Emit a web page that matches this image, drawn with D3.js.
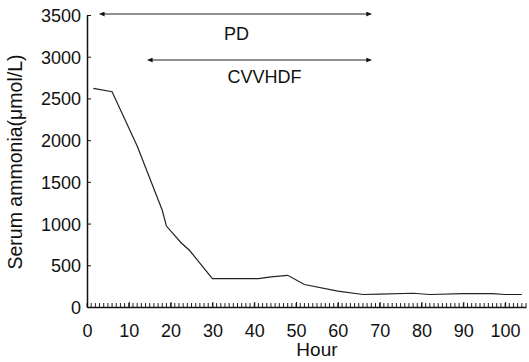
<!DOCTYPE html>
<html>
<head>
<meta charset="utf-8">
<script src="https://cdn.jsdelivr.net/npm/d3@7"></script>
<style>
  body { margin: 0; background: #fff; }
  svg text { font-family: "Liberation Sans", Arial, sans-serif; fill: #111; }
</style>
</head>
<body>
<div id="chart"></div>
<script>
// serum ammonia over time
var hours  = [1.5, 6, 12, 18, 19, 22.5, 24.5, 30, 35, 41, 44, 48, 52, 60, 66, 70, 78, 82, 90, 97, 100, 104];
var values = [2620, 2580, 1930, 1160, 970, 770, 680, 340, 340, 340, 360, 380, 270, 190, 150, 155, 165, 150, 160, 160, 150, 150];

// treatment periods (hours)
var phaseNames = ["PD", "CVVHDF"];
var phaseStart = [3, 14.5];
var phaseEnd   = [68, 68];

var xTicks = [0, 10, 20, 30, 40, 50, 60, 70, 80, 90, 100];
var yTicks = [0, 500, 1000, 1500, 2000, 2500, 3000, 3500];

var W = 529, H = 362;
var margin = { top: 15, right: 3, bottom: 55, left: 87 },
    width = W - margin.left - margin.right,
    height = H - margin.top - margin.bottom;

var svg = d3.select("#chart").append("svg")
    .attr("width", W)
    .attr("height", H),
    g = svg.append("g")
    .attr("transform", "translate(" + margin.left + "," + margin.top + ")");

var x = d3.scaleLinear().domain([0, 105]).range([0, width]);
var y = d3.scaleLinear().domain([0, 3500]).range([height, 0]);

// minor ticks every hour along the bottom
g.append("g").selectAll("line")
    .data(d3.range(0, 106))
    .enter().append("line")
    .attr("x1", function(d) { return x(d); })
    .attr("x2", function(d) { return x(d); })
    .attr("y1", height)
    .attr("y2", height - 4)
    .attr("stroke", "#222")
    .attr("stroke-width", 1);

var xAxis = g.append("g")
    .attr("transform", "translate(0," + height + ")")
    .call(d3.axisBottom(x).tickValues(xTicks).tickFormat(d3.format("d")).tickSizeInner(-5).tickSizeOuter(0));
xAxis.select(".domain").attr("stroke", "#111").attr("stroke-width", 1.5);
xAxis.selectAll(".tick line").attr("stroke", "#111");
xAxis.selectAll(".tick text")
    .attr("y", 30).attr("dy", 0)
    .style("font-size", "18px");

var yAxis = g.append("g")
    .call(d3.axisLeft(y).tickValues(yTicks).tickFormat(d3.format("d")).tickSizeInner(-4).tickSizeOuter(0).tickPadding(6));
yAxis.select(".domain").attr("stroke", "#111").attr("stroke-width", 1.5);
yAxis.selectAll(".tick line").attr("stroke", "#111");
yAxis.selectAll(".tick text")
    .attr("x", -6).attr("dy", "0.36em")
    .style("font-size", "18px");

// axis titles
svg.append("text")
    .attr("x", margin.left + x(55))
    .attr("y", 356)
    .attr("text-anchor", "middle")
    .style("font-size", "19px")
    .text("Hour");

svg.append("text")
    .attr("transform", "translate(22," + 162 + ") rotate(-90)")
    .attr("text-anchor", "middle")
    .style("font-size", "19.5px")
    .text("Serum ammonia(μmol/L)");

// the ammonia curve
var pts = hours.map(function(h, i) { return [h, values[i]]; });
g.append("path")
    .datum(pts)
    .attr("fill", "none")
    .attr("stroke", "#222")
    .attr("stroke-width", 1.2)
    .attr("d", d3.line()
        .x(function(d) { return x(d[0]); })
        .y(function(d) { return y(d[1]); }));

// arrows for treatment periods
svg.append("defs").selectAll("marker")
    .data(["arrowStart", "arrowEnd"])
    .enter().append("marker")
    .attr("id", function(d) { return d; })
    .attr("viewBox", "0 -5 10 10")
    .attr("refX", 10)
    .attr("refY", 0)
    .attr("markerUnits", "userSpaceOnUse")
    .attr("markerWidth", 8)
    .attr("markerHeight", 5)
    .attr("orient", function(d) { return d == "arrowStart" ? "auto-start-reverse" : "auto"; })
    .append("path")
    .attr("d", "M0,-5L10,0L0,5Z")
    .attr("fill", "#111");

var arrowY = [-1, 45];
var labelY = [25, 68];
phaseNames.forEach(function(name, i) {
    g.append("line")
        .attr("x1", x(phaseStart[i]))
        .attr("x2", x(phaseEnd[i]))
        .attr("y1", arrowY[i])
        .attr("y2", arrowY[i])
        .attr("stroke", "#222")
        .attr("stroke-width", 1)
        .attr("marker-start", "url(#arrowStart)")
        .attr("marker-end", "url(#arrowEnd)");
    g.append("text")
        .attr("x", x((phaseStart[i] + phaseEnd[i]) / 2) + (i == 1 ? 5 : 1))
        .attr("y", labelY[i])
        .attr("text-anchor", "middle")
        .style("font-size", "18px")
        .text(name);
});
</script>
</body>
</html>
